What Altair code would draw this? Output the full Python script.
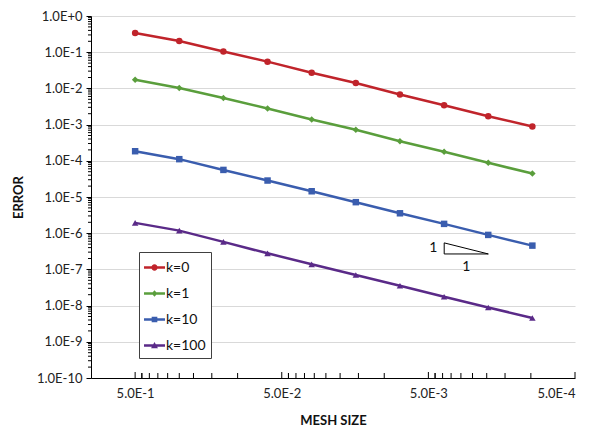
import altair as alt
import pandas as pd

# ---- data ----
series_names = ["k=0", "k=1", "k=10", "k=100"]
series_colors = ["#C0242B", "#5A9E3C", "#3A5DAE", "#5A2A88"]
series_shapes = ["circle", "diamond", "square", "triangle-up"]

mesh = [0.5, 0.25, 0.125, 0.0625, 0.03125, 0.015625, 0.0078125,
        0.00390625, 0.001953125, 0.0009765625]
err_k0 = [0.339, 0.203, 0.105, 0.0548, 0.0272, 0.0141, 0.00682, 0.00342, 0.00170, 0.000889]
err_k1 = [0.0174, 0.0102, 0.0054, 0.0028, 0.00139, 0.00072, 0.000348, 0.000177, 0.000088, 0.0000445]
err_k10 = [1.84e-4, 1.11e-4, 5.6e-5, 2.85e-5, 1.44e-5, 7.2e-6, 3.55e-6, 1.81e-6, 8.97e-7, 4.54e-7]
err_k100 = [1.93e-6, 1.18e-6, 5.75e-7, 2.78e-7, 1.38e-7, 7.0e-8, 3.55e-8, 1.76e-8, 8.9e-9, 4.54e-9]

y_major = [1e-10, 1e-9, 1e-8, 1e-7, 1e-6, 1e-5, 1e-4, 1e-3, 1e-2, 1e-1, 1.0]
x_major = [0.5, 0.05, 0.005, 0.0005]
minor_mult = [2, 3, 4, 5, 6, 7, 8, 9]

# slope triangle annotation (data coordinates)
tri_x = [0.0039, 0.0039, 0.00195, 0.0039]
tri_y = [5.4e-7, 2.67e-7, 2.67e-7, 5.4e-7]

FONT = "Lato"
W, H = 484, 362

rows = []
for name, vals in zip(series_names, [err_k0, err_k1, err_k10, err_k100]):
    for m, e in zip(mesh, vals):
        rows.append({"mesh": m, "err": e, "k": name, "kk": name})
df = pd.DataFrame(rows)

y_minor = [d * m for d in y_major[:-1] for m in minor_mult]
x_minor = [b * m for b in [0.05, 0.005, 0.0005] for m in minor_mult] + [0.45, 0.045, 0.0045]
x_minor = [v for v in x_minor if v not in x_major]

xscale = alt.Scale(type="log", domain=[0.0005, 1.0], reverse=True, nice=False)
yscale = alt.Scale(type="log", domain=[1e-10, 1.0], nice=False)

color_scale = alt.Scale(domain=series_names, range=series_colors)
shape_scale = alt.Scale(domain=series_names, range=series_shapes)

x_axis = alt.Axis(
    values=x_major, ticks=False, grid=False, domainColor="#000000", domainWidth=1,
    labelExpr="'5.0E' + round(log(datum.value/5)/LN10)",
    labelFont=FONT, labelFontSize=13, labelColor="#222222", labelPadding=9,
    title="MESH SIZE", titleFont=FONT, titleFontSize=13, titleFontWeight="bold",
    titleColor="#111111", titlePadding=14,
)
y_axis = alt.Axis(
    values=y_major, grid=True, gridColor="#d9d9d9", gridWidth=1,
    tickSize=5, tickColor="#000000", domainColor="#000000", domainWidth=1,
    labelExpr="'1.0E' + (round(log(datum.value)/LN10) >= 0 ? '+' : '') + round(log(datum.value)/LN10)",
    labelFont=FONT, labelFontSize=13, labelColor="#222222", labelPadding=4,
    title="ERROR", titleFont=FONT, titleFontSize=13, titleFontWeight="bold",
    titleColor="#111111", titleAngle=270, titleAlign="center", titleBaseline="middle",
    titleX=-73, titleY=H / 2,
)


def X(field):
    return alt.X(field, scale=xscale, axis=x_axis)


def Y(field):
    return alt.Y(field, scale=yscale, axis=y_axis)


base = alt.Chart(df)

lines = base.mark_line(strokeWidth=2.5).encode(
    x=X("mesh:Q"), y=Y("err:Q"),
    color=alt.Color("k:N", scale=color_scale, legend=None),
    detail="k:N",
)
points = base.mark_point(filled=True, size=42, opacity=1).encode(
    x=X("mesh:Q"), y=Y("err:Q"),
    color=alt.Color("k:N", scale=color_scale, legend=None),
    shape=alt.Shape("k:N", scale=shape_scale, legend=None),
)

# legend symbols: a line segment with the series marker
line_path = "M-1,-0.11H1V0.11H-1Z"
legend_paths = [
    line_path + "M0.3,0A0.3,0.3,0,1,1,-0.3,0A0.3,0.3,0,1,1,0.3,0Z",
    line_path + "M0,-0.32L0.27,0L0,0.32L-0.27,0Z",
    line_path + "M-0.27,-0.27H0.27V0.27H-0.27Z",
    line_path + "M0,-0.33L0.33,0.27H-0.33Z",
]
legend_layer = base.mark_point(filled=True, opacity=0).encode(
    x=X("mesh:Q"), y=Y("err:Q"),
    color=alt.Color("kk:N", scale=alt.Scale(domain=series_names, range=series_colors),
                    legend=alt.Legend(title=None)),
    shape=alt.Shape("kk:N", scale=alt.Scale(domain=series_names, range=legend_paths),
                    legend=alt.Legend(title=None)),
)

ytick_rules = alt.Chart(pd.DataFrame({"err": y_minor})).mark_rule(color="#000000", strokeWidth=1).encode(
    y=Y("err:Q"),
    x=alt.value(-3), x2=alt.value(0),
)
xtick_major = alt.Chart(pd.DataFrame({"mesh": x_major})).mark_rule(color="#000000", strokeWidth=1).encode(
    x=X("mesh:Q"),
    y=alt.value(H - 6), y2=alt.value(H),
)
xtick_minor = alt.Chart(pd.DataFrame({"mesh": x_minor})).mark_rule(color="#000000", strokeWidth=1).encode(
    x=X("mesh:Q"),
    y=alt.value(H - 5), y2=alt.value(H),
)

tri_df = pd.DataFrame({"mesh": tri_x, "err": tri_y, "o": list(range(len(tri_x)))})
triangle = alt.Chart(tri_df).mark_line(color="#000000", strokeWidth=1).encode(
    x=X("mesh:Q"), y=Y("err:Q"),
    order="o:O",
)
lab_df = pd.DataFrame({
    "mesh": [tri_x[0], (tri_x[0] * tri_x[2]) ** 0.5],
    "err": [(tri_y[0] * tri_y[1]) ** 0.5, tri_y[1]],
    "t": ["1", "1"],
})
lab_left = alt.Chart(lab_df.iloc[[0]]).mark_text(
    font=FONT, fontSize=14, color="#111111", dx=-11, baseline="middle"
).encode(x=X("mesh:Q"), y=Y("err:Q"), text="t:N")
lab_bottom = alt.Chart(lab_df.iloc[[1]]).mark_text(
    font=FONT, fontSize=14, color="#111111", dy=13, baseline="middle"
).encode(x=X("mesh:Q"), y=Y("err:Q"), text="t:N")

chart = alt.layer(
    lines, points, ytick_rules, xtick_major, xtick_minor, triangle, lab_left, lab_bottom, legend_layer
).resolve_scale(
    color="independent", shape="independent"
).properties(
    width=W, height=H,
    padding={"left": 91, "top": 16, "right": 38, "bottom": 52},
    autosize="none",
).configure_view(
    stroke=None
).configure_legend(
    orient="none", legendX=48, legendY=236,
    strokeColor="#404040", strokeWidth=1, fillColor="#ffffff",
    padding=5, rowPadding=8, symbolSize=440, symbolStrokeWidth=0, symbolOpacity=1,
    labelFont=FONT, labelFontSize=14, labelColor="#111111", labelOffset=1,
    symbolType="circle",
)

chart.save("out.html", embed_options={"renderer": "svg", "actions": False})
